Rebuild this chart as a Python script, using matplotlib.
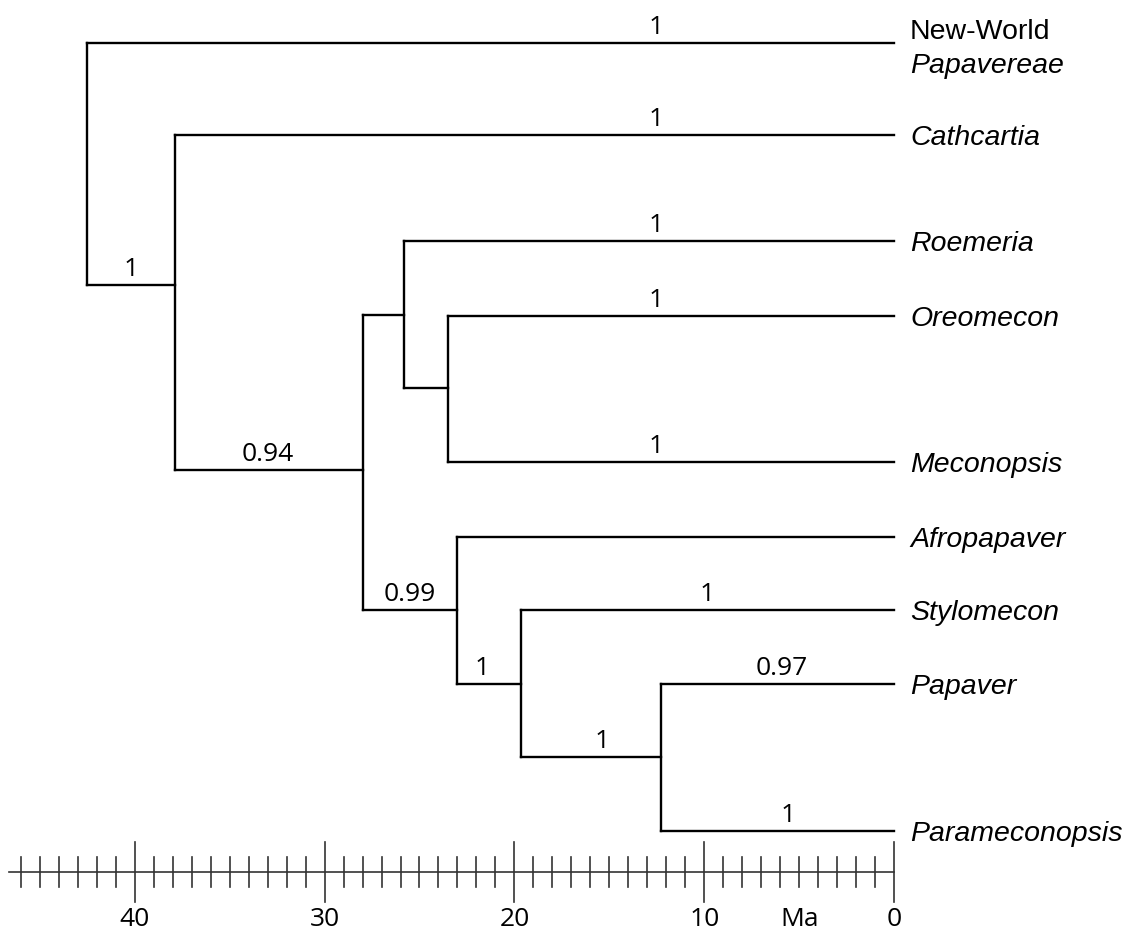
import matplotlib
matplotlib.use('Agg')
import matplotlib.pyplot as plt

# tips (age 0) and their rows on the page
tip_names = ['New-World', 'Cathcartia', 'Roemeria', 'Oreomecon', 'Meconopsis',
             'Afropapaver', 'Stylomecon', 'Papaver', 'Parameconopsis']
tip_rows = [43, 135, 241, 316, 462, 537, 610, 684, 831]

# internal nodes: age (Ma), row where the stem attaches, children
node_names = ['root', 'n2', 'n3', 'n4', 'n6', 'n5', 'n7', 'n8']
node_ages = [42.5, 37.9, 28.0, 25.8, 23.5, 23.0, 19.65, 12.3]
node_rows = [285, 285, 470, 315, 388, 610, 684, 757]
node_children = [
    ['New-World', 'n2'],
    ['Cathcartia', 'n3'],
    ['n4', 'n5'],
    ['Roemeria', 'n6'],
    ['Oreomecon', 'Meconopsis'],
    ['Afropapaver', 'n7'],
    ['Stylomecon', 'n8'],
    ['Papaver', 'Parameconopsis'],
]

# posterior support on branches (branch named by its child), label position in Ma
support_branch = ['n2', 'n3', 'n5', 'n7', 'n8',
                  'New-World', 'Cathcartia', 'Roemeria', 'Oreomecon', 'Meconopsis',
                  'Stylomecon', 'Papaver', 'Parameconopsis']
support_value = ['1', '0.94', '0.99', '1', '1',
                 '1', '1', '1', '1', '1',
                 '1', '0.97', '1']
support_at = [40.2, 33.0, 25.5, 21.7, 15.4,
              12.55, 12.55, 12.55, 12.55, 12.55,
              9.85, 5.9, 5.6]

scale_major = [40, 30, 20, 10, 0]
scale_min, scale_max = 0, 46.6

age = dict(zip(tip_names, [0.0] * len(tip_names)))
row = dict(zip(tip_names, tip_rows))
age.update(zip(node_names, node_ages))
row.update(zip(node_names, node_rows))

fig = plt.figure(figsize=(11.29, 9.31), dpi=100)
ax = fig.add_axes([0, 0, 1, 1])
ax.set_xlim(47.1, -12.38)
ax.set_ylim(931, 0)
ax.axis('off')

lw = 1.7
for name, kids in zip(node_names, node_children):
    a = age[name]
    rows = [row[k] for k in kids]
    ax.plot([a, a], [min(rows), max(rows)], color='black', lw=lw, solid_capstyle='projecting')
    for k in kids:
        ax.plot([a, age[k]], [row[k], row[k]], color='black', lw=lw, solid_capstyle='projecting')

num_font = 'Open Sans'
for b, v, x in zip(support_branch, support_value, support_at):
    ax.text(x, row[b] - 9, v, ha='center', va='baseline', fontsize=19, family=num_font)

# tip labels
lab_x = -0.84
for name, r in zip(tip_names, tip_rows):
    if name == 'New-World':
        ax.text(lab_x, r - 4, 'New-World', ha='left', va='baseline',
                fontsize=20.5, family='Liberation Sans')
        ax.text(lab_x, r + 30, 'Papavereae', ha='left', va='baseline',
                fontsize=20.5, family='Liberation Sans', style='italic')
    else:
        ax.text(lab_x, r, name, ha='left', va='center_baseline',
                fontsize=20.5, family='Liberation Sans', style='italic')

# time scale
sy = 872
ax.plot([scale_max, scale_min], [sy, sy], color='#333333', lw=1.2)
for t in range(0, 47):
    if t in scale_major:
        ax.plot([t, t], [sy - 30, sy + 30], color='#333333', lw=1.2)
    else:
        ax.plot([t, t], [sy - 15, sy + 15], color='#333333', lw=1.2)
for t in scale_major:
    ax.text(t, 920, str(t), ha='center', va='center', fontsize=19, family=num_font)
ax.text(4.95, 920, 'Ma', ha='center', va='center', fontsize=19, family=num_font)

plt.savefig('out.png', dpi=100)
plt.close()
